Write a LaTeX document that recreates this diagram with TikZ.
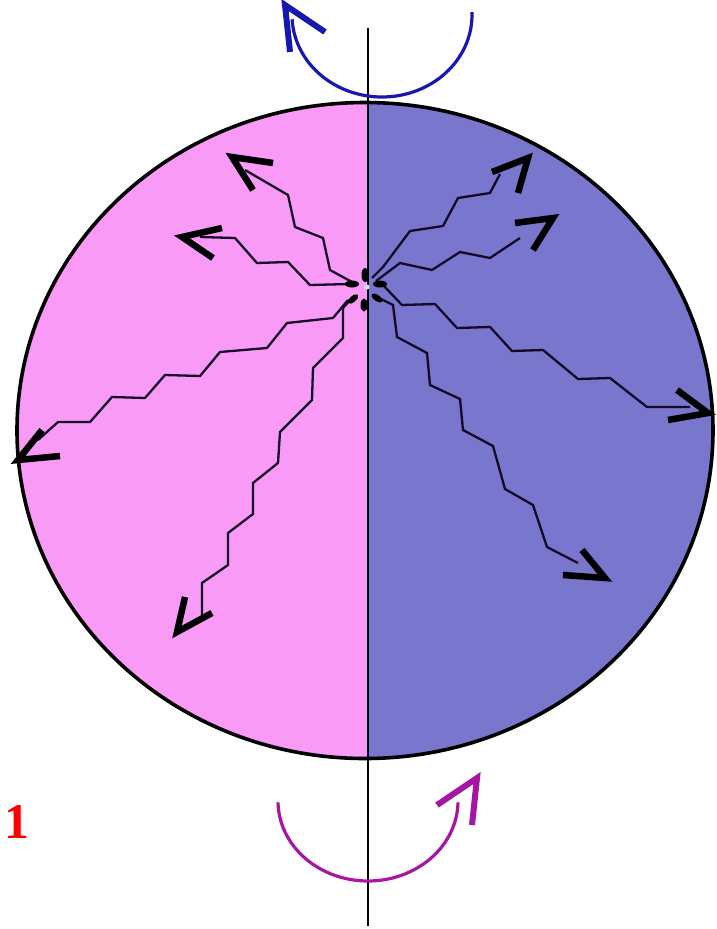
\documentclass[tikz,border=0pt]{standalone}
\usepackage{fontspec}
\setmainfont{Liberation Serif}
\definecolor{pinkhalf}{RGB}{249,154,246}
\definecolor{bluehalf}{RGB}{121,118,205}
\definecolor{rotblue}{RGB}{24,24,176}
\definecolor{rotpurple}{RGB}{165,22,165}
\definecolor{chainink}{RGB}{20,10,40}
\begin{document}
\begin{tikzpicture}[x=1pt,y=-1pt,
  chainline/.style={line width=2.3pt, line join=miter, draw=chainink},
  vtip/.style={line width=6.5pt, line join=miter, miter limit=10, draw=black},
  blob/.style={fill=black},
  rotarc/.style={line width=3.2pt},
  rottip/.style={line width=6pt, line join=miter, miter limit=10}]
\useasboundingbox (0,0) rectangle (717,929);
% sphere halves
\begin{scope}
  \clip (365,430.5) ellipse [x radius=348, y radius=328];
  \fill[pinkhalf] (0,0) rectangle (368,929);
  \fill[bluehalf] (368,0) rectangle (717,929);
\end{scope}
\draw[line width=3.6pt] (365,430.5) ellipse [x radius=348, y radius=328];
% axis
\coordinate (axtop) at (368,28);
\coordinate (axbot) at (368,926);
\draw[line width=2.4pt] (axtop) -- (axbot);
% chains
\draw[chainline] (352,282) -- (330,270) -- (323,238) -- (295,227) -- (288,195) -- (245,170);
\draw[vtip] (273,163) -- (232,157) -- (253,190);
\draw[chainline] (350,284) -- (310,285) -- (288,262) -- (257,263) -- (235,238) -- (200,237);
\draw[vtip] (222,228) -- (182,237) -- (213,258);
\draw[chainline] (348,300) -- (333,318) -- (287,323) -- (267,348) -- (220,352) -- (200,376) -- (165,375) -- (145,398) -- (112,397) -- (90,422) -- (58,422) -- (38,440);
\draw[vtip] (42,430) -- (18,460) -- (60,456);
\draw[chainline] (350,300) -- (343,308) -- (343,338) -- (313,368) -- (312,400) -- (280,432) -- (278,463) -- (253,483) -- (253,514) -- (228,533) -- (228,565) -- (202,583) -- (202,615);
\draw[vtip] (185,597) -- (177,632) -- (212,613);
\draw[chainline] (372,278) -- (383,267) -- (410,231) -- (443,226) -- (458,198) -- (490,193) -- (500,174);
\draw[vtip] (492,172) -- (528,158) -- (518,193);
\draw[chainline] (376,281) -- (400,263) -- (432,270) -- (460,252) -- (490,258) -- (520,238);
\draw[vtip] (515,223) -- (553,218) -- (533,250);
\draw[chainline] (383,285) -- (402,305) -- (435,304) -- (457,328) -- (490,327) -- (512,351) -- (543,350) -- (578,379) -- (610,378) -- (647,407) -- (690,407);
\draw[vtip] (677,390) -- (708,413) -- (668,420);
\draw[chainline] (377,297) -- (393,305) -- (397,337) -- (427,353) -- (430,385) -- (460,399) -- (463,430) -- (493,446) -- (505,489) -- (533,505) -- (547,547) -- (578,563);
\draw[vtip] (582,550) -- (605,578) -- (563,575);
% head groups at the centre
\fill[blob] (365,275) ellipse [x radius=3.5, y radius=7];
\fill[blob] (364,305) ellipse [x radius=3.5, y radius=6.5];
\fill[blob] (352,284) ellipse [x radius=7, y radius=3.5];
\fill[blob] (380,284) ellipse [x radius=7, y radius=3.5];
\fill[blob, rotate around={40:(353,299)}] (353,299) ellipse [x radius=6.5, y radius=3];
\fill[blob, rotate around={-35:(377,298)}] (377,298) ellipse [x radius=6.5, y radius=3];
\fill[white!75!gray] (367,287) circle (2.5);
% rotation arrows
\draw[rotarc, rotblue] plot[smooth, domain=-2:177, samples=60] ({382+90*cos(\x)},{15+82*sin(\x)});
\draw[rottip, rotblue] (290,52) -- (285,5) -- (325,32);
\draw[rotarc, rotpurple] plot[smooth, domain=1:179, samples=60] ({368+90*cos(\x)},{801+80*sin(\x)});
\draw[rottip, rotpurple] (437,805) -- (477,778) -- (472,825);
% label
\node[text=red, font=\fontsize{50}{50}\selectfont\bfseries, inner sep=0pt] (lab1) at (17,822) {1};
\end{tikzpicture}
\end{document}
